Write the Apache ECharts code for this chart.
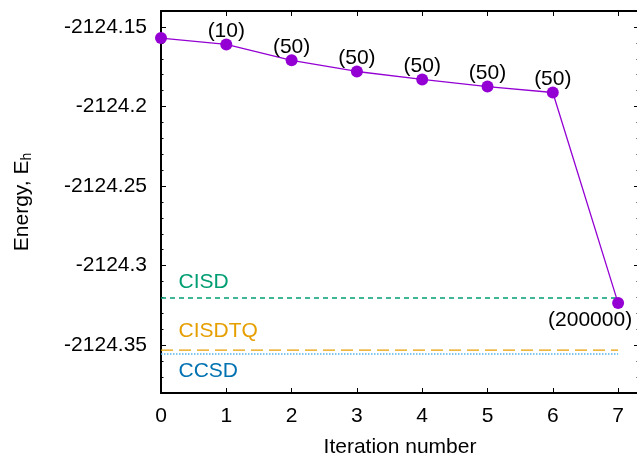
<!DOCTYPE html>
<html>
<head>
<meta charset="utf-8">
<script src="https://cdn.jsdelivr.net/npm/echarts@6/dist/echarts.min.js"></script>
<style>
html,body{margin:0;padding:0;background:#fff;}
#chart{width:637px;height:457px;}
</style>
</head>
<body>
<div id="chart"></div>
<script>
// ---- data ----
const iterations = [0, 1, 2, 3, 4, 5, 6, 7];
const energies = [-2124.1570, -2124.1610, -2124.1710, -2124.1780, -2124.1830, -2124.1875, -2124.1912, -2124.3235];
const pointLabels = ["", "(10)", "(50)", "(50)", "(50)", "(50)", "(50)", "(200000)"];
const refNames = ["CISD", "CISDTQ", "CCSD"];
const refEnergies = [-2124.3203, -2124.3531, -2124.3555];
const refXRange = [0, 7];
const xTicks = [0, 1, 2, 3, 4, 5, 6, 7];
const yMajorTicks = [-2124.35, -2124.3, -2124.25, -2124.2, -2124.15];
const yMinorTicks = [-2124.37, -2124.36, -2124.34, -2124.33, -2124.32, -2124.31, -2124.29, -2124.28, -2124.27, -2124.26,
  -2124.24, -2124.23, -2124.22, -2124.21, -2124.19, -2124.18, -2124.17, -2124.16, -2124.14];

const FONT = '"Liberation Sans", Arial, Helvetica, sans-serif';
const FS = 21;
const yMin = -2124.38, yMax = -2124.14;
const xMin = 0, xMax = 7.32;

const chart = echarts.init(document.getElementById('chart'), null, {renderer: 'canvas'});

function xAxisDef(pos, showLabel) {
  return {
    type: 'value', position: pos, min: xMin, max: xMax, interval: 1,
    axisLine: {show: true, onZero: false, lineStyle: {color: '#000', width: 2}},
    axisTick: {show: true, inside: true, length: 5, lineStyle: {color: '#000', width: 1}, customValues: xTicks},
    axisLabel: {show: showLabel, customValues: xTicks, color: '#000', fontFamily: FONT, fontSize: FS, margin: 13,
      formatter: v => String(v)},
    splitLine: {show: false},
    name: showLabel ? 'Iteration number' : '',
    nameLocation: 'middle', nameGap: 44,
    nameTextStyle: {color: '#000', fontFamily: FONT, fontSize: FS}
  };
}
function yAxisDef(pos, major, showLabel, showLine) {
  return {
    type: 'value', position: pos, min: yMin, max: yMax,
    axisLine: {show: showLine, onZero: false, lineStyle: {color: '#000', width: 2}},
    axisTick: {show: true, inside: true, length: major ? 5 : 2.5, lineStyle: {color: '#000', width: 1},
      customValues: major ? yMajorTicks : yMinorTicks},
    axisLabel: {show: showLabel, customValues: yMajorTicks, color: '#000', fontFamily: FONT, fontSize: FS, margin: 14,
      formatter: v => String(+(+v).toFixed(2))},
    splitLine: {show: false},
    name: showLabel ? '{m|Energy, E}{s|h}' : '',
    nameLocation: 'middle', nameGap: 127,
    nameTextStyle: {color: '#000', fontFamily: FONT, fontSize: FS,
      rich: {
        m: {fontFamily: FONT, fontSize: FS, color: '#000', lineHeight: 24, verticalAlign: 'middle'},
        s: {fontFamily: FONT, fontSize: 14, color: '#000', verticalAlign: 'bottom', lineHeight: 4}
      }}
  };
}

const mainData = iterations.map((x, i) => {
  const item = {value: [x, energies[i]]};
  if (i === iterations.length - 1) {
    item.label = {position: 'inside', offset: [-28, 17]};
  }
  return item;
});

const refColors = ['#009e73', '#e69f00', '#56b4e9'];
const refTextColors = ['#009e73', '#e69f00', '#0072b2'];
const refDash = [[5, 4], [12, 6], [1.5, 1.5]];
const refOffsets = [[17, -16], [17, -19], [17, 17]];

const refSeries = refNames.map((nm, k) => ({
  type: 'line', name: nm, xAxisIndex: 0, yAxisIndex: 0,
  data: refXRange.map((x, j) => ({
    value: [x, refEnergies[k]],
    label: j === 0 ? {show: true, formatter: nm, position: 'right', distance: 0, offset: refOffsets[k],
      color: refTextColors[k], fontFamily: FONT, fontSize: FS} : {show: false}
  })),
  symbol: 'circle', symbolSize: 1, showSymbol: true,
  itemStyle: {color: 'transparent', borderWidth: 0},
  lineStyle: {color: refColors[k], width: 1.3, type: refDash[k]},
  silent: true, z: 2
}));

chart.setOption({
  animation: false,
  backgroundColor: '#fff',
  grid: {left: 161, top: 11, width: 478, bottom: 64, containLabel: false, outerBoundsMode: 'none'},
  xAxis: [xAxisDef('bottom', true), xAxisDef('top', false)],
  yAxis: [yAxisDef('left', true, true, true), yAxisDef('left', false, false, false),
          yAxisDef('right', true, false, true), yAxisDef('right', false, false, false)],
  series: refSeries.concat([{
    type: 'line', name: 'energy', xAxisIndex: 0, yAxisIndex: 0,
    data: mainData,
    symbol: 'circle', symbolSize: 12, showSymbol: true,
    itemStyle: {color: '#9400d3'},
    lineStyle: {color: '#9400d3', width: 1.3},
    label: {show: true, position: 'top', distance: 0, offset: [0, 3],
      formatter: p => pointLabels[p.dataIndex], color: '#000', fontFamily: FONT, fontSize: FS},
    z: 5
  }])
});
</script>
</body>
</html>
